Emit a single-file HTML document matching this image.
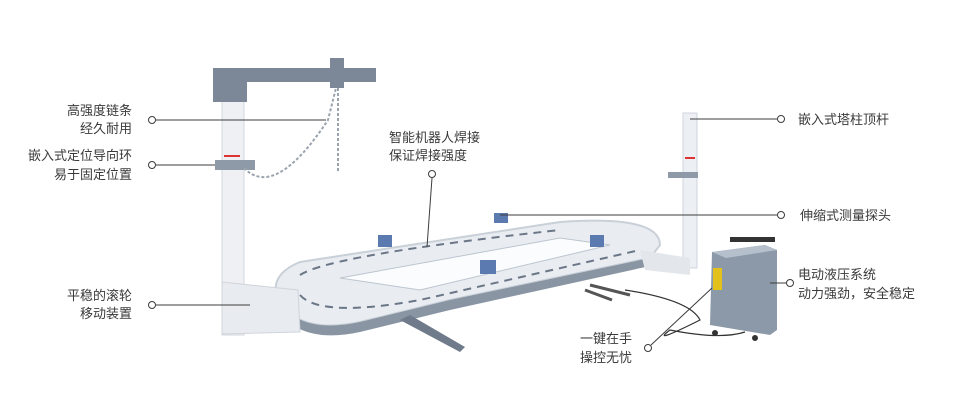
<!DOCTYPE html>
<html><head><meta charset="utf-8"><style>
html,body{margin:0;padding:0;background:#fff;}
svg{display:block}
text{font-family:"Liberation Sans","Noto Sans CJK SC",sans-serif;font-size:13px;fill:#3a3a3a;}
</style></head><body>
<svg width="962" height="401" viewBox="0 0 962 401" xmlns="http://www.w3.org/2000/svg">
<!-- platform -->
<path d="M300,262 L560,222 Q660,215 660,245 L650,258 L450,300 L360,322 Q300,335 278,300 Q268,275 300,262 Z" fill="#e9edf2" stroke="#c9d0d8" stroke-width="2"/>
<path d="M278,300 Q300,335 360,322 L450,300 L650,258 L650,266 L450,310 L360,332 Q300,345 276,308 Z" fill="#8a95a3"/>
<path d="M340,278 L560,238 L610,245 L420,290 Z" fill="#fbfcfd" stroke="#bcc5cf"/>
<path d="M300,275 Q330,255 560,230" fill="none" stroke="#6b7787" stroke-width="2" stroke-dasharray="8 6"/>
<path d="M300,295 Q320,318 420,300 L640,250" fill="none" stroke="#6b7787" stroke-width="2" stroke-dasharray="8 6"/>
<path d="M400,320 L460,352 L465,347 L410,315 Z" fill="#6f7b8a"/>
<path d="M590,285 L630,295 M585,290 L612,300" stroke="#555" stroke-width="3"/>
<g fill="#5a7ab0"><rect x="378" y="235" width="14" height="12"/><rect x="494" y="213" width="14" height="10"/><rect x="480" y="260" width="16" height="14"/><rect x="590" y="235" width="14" height="12"/></g>
<!-- left tower -->
<rect x="222" y="95" width="22" height="240" fill="#eef0f3" stroke="#d3d8de"/>
<path d="M222,282 L298,290 L300,332 L222,334 Z" fill="#e8ebef" stroke="#d0d5db"/>
<rect x="213" y="68" width="163" height="14" fill="#7c8898"/>
<rect x="213" y="80" width="34" height="22" fill="#7c8898"/>
<rect x="330" y="58" width="14" height="30" fill="#7c8898"/>
<rect x="215" y="160" width="40" height="10" fill="#8f9aa8"/>
<rect x="224" y="155" width="16" height="2" fill="#d33"/>
<path d="M244,168 Q275,200 328,120 L336,88" fill="none" stroke="#9aa4ae" stroke-width="2" stroke-dasharray="3 2"/>
<path d="M338,88 L338,172" stroke="#9aa4ae" stroke-width="2" stroke-dasharray="3 2"/>
<!-- right tower -->
<rect x="683" y="113" width="14" height="155" fill="#eceff3" stroke="#cfd5dc"/>
<path d="M640,250 L690,258 L690,275 L645,270 Z" fill="#e3e7ec"/>
<rect x="668" y="172" width="30" height="6" fill="#8f9aa8"/>
<rect x="685" y="157" width="10" height="2" fill="#d33"/>
<!-- hydraulic box -->
<rect x="730" y="237" width="45" height="5" fill="#333"/>
<path d="M712,252 L765,245 L777,250 L777,330 L770,335 L710,325 Z" fill="#8c99a8"/>
<path d="M712,252 L765,245 L777,250 L726,258 Z" fill="#b5c0cc"/>
<rect x="713" y="268" width="9" height="22" fill="#e2c21a"/>
<circle cx="715" cy="333" r="3" fill="#333"/><circle cx="755" cy="338" r="3" fill="#333"/>
<path d="M625,290 Q690,300 700,320 Q650,345 670,330 Q720,340 745,332" fill="none" stroke="#333" stroke-width="1.2"/>
<!-- leader lines -->
<g stroke="#3c3c3c" stroke-width="1" fill="none">
<line x1="156" y1="120" x2="326" y2="120"/><circle cx="152" cy="120" r="3.5" fill="#fff"/>
<line x1="156" y1="165" x2="215" y2="165"/><circle cx="152" cy="165" r="3.5" fill="#fff"/>
<line x1="156" y1="305" x2="250" y2="305"/><circle cx="152" cy="305" r="3.5" fill="#fff"/>
<line x1="432" y1="178" x2="427" y2="247"/><circle cx="432" cy="174" r="3.5" fill="#fff"/>
<line x1="690" y1="119" x2="777" y2="119"/><circle cx="781" cy="119" r="3.5" fill="#fff"/>
<line x1="500" y1="215" x2="777" y2="215"/><circle cx="781" cy="215" r="3.5" fill="#fff"/>
<line x1="770" y1="283" x2="786" y2="283"/><circle cx="790" cy="283" r="3.5" fill="#fff"/>
<line x1="651" y1="345" x2="712" y2="288"/><circle cx="648" cy="348" r="3.5" fill="#fff"/>
</g>
<!-- labels -->
<g text-anchor="end">
<text x="132" y="115">高强度链条</text><text x="132" y="133">经久耐用</text>
<text x="132" y="160">嵌入式定位导向环</text><text x="132" y="179">易于固定位置</text>
<text x="132" y="300">平稳的滚轮</text><text x="132" y="318">移动装置</text>
</g>
<text x="389" y="142">智能机器人焊接</text><text x="389" y="160">保证焊接强度</text>
<text x="798" y="124">嵌入式塔柱顶杆</text>
<text x="800" y="220">伸缩式测量探头</text>
<text x="798" y="279">电动液压系统</text><text x="798" y="298">动力强劲，安全稳定</text>
<text x="580" y="343">一键在手</text><text x="580" y="362">操控无忧</text>
</svg>
</body></html>
